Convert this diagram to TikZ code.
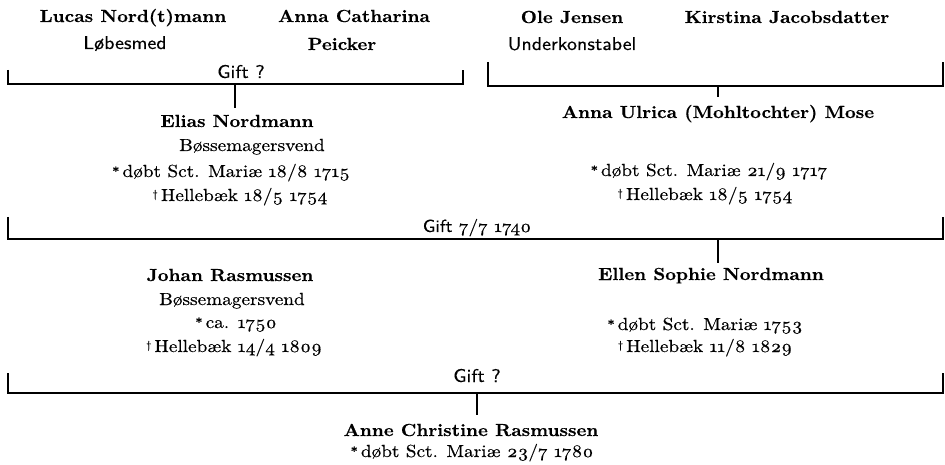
\documentclass[tikz,border=0pt]{standalone}
\usepackage{fontspec}
\newfontfamily\regfont{lmroman10-regular.otf}[FakeStretch=1.1, FakeBold=0.4, Numbers=OldStyle]
\newfontfamily\namefont{lmroman10-bold.otf}[FakeStretch=1.07, FakeBold=0.4]
\newfontfamily\sansreg{lmsans10-regular.otf}[FakeStretch=1.08, FakeBold=0.3]
\newcommand\bornmk{\raisebox{0.2ex}{\fontsize{12}{12}\selectfont\namefont *}\hspace{3pt}}
\newcommand\diedmk{\raisebox{0.45ex}{\fontsize{11}{11}\selectfont\textdagger}\hspace{3pt}}
\begin{document}
\begin{tikzpicture}[x=1pt,y=-1pt,
  every node/.style={inner sep=0pt, outer sep=0pt, anchor=base},
  nm/.style={font=\fontsize{17.5}{21}\namefont},
  tx/.style={font=\fontsize{17.5}{21}\regfont},
  sf/.style={font=\fontsize{18.5}{22}\sansreg},
  bracket/.style={line width=2.2pt, line join=miter},
  stem/.style={line width=2pt}]
\useasboundingbox[fill=white] (0,0) rectangle (945,465);

% generation 1
\node[nm] (lucas) at (133,22) {Lucas Nord(t)mann};
\node[sf] (lucasjob) at (125,49) {Løbesmed};
\node[nm] (annac) at (354,22) {Anna Catharina};
\node[nm] (annac2) at (342,50) {Peicker};
\node[nm] (ole) at (572,23) {Ole Jensen};
\node[sf] (olejob) at (572,50) {Underkonstabel};
\node[nm] (kirstina) at (787,23) {Kirstina Jacobsdatter};

\coordinate (b1l) at (8,70);
\coordinate (b1r) at (463,70);
\coordinate (m1) at (235,84);
\draw[bracket] (b1l) |- (m1) -| (b1r);
\node[sf] (gift1) at (241,78) {Gift ?};

\coordinate (b2l) at (488,62);
\coordinate (b2r) at (943,62);
\coordinate (m2) at (718,86);
\draw[bracket] (b2l) |- (m2) -| (b2r);

% generation 2
\node[nm] (elias) at (237,127) {Elias Nordmann};
\node[tx] (eliasjob) at (252,151) {Bøssemagersvend};
\node[tx] (eliasb) at (231,177) {\bornmk døbt Sct. Mariæ 18/8 1715};
\node[tx] (eliasd) at (240,201) {\diedmk Hellebæk 18/5 1754};

\node[nm] (ulrica) at (718,118) {Anna Ulrica (Mohltochter) Mose};
\node[tx] (ulricab) at (709,176) {\bornmk døbt Sct. Mariæ 21/9 1717};
\node[tx] (ulricad) at (705,200) {\diedmk Hellebæk 18/5 1754};

\draw[stem, shorten >=7pt] (m1) -- (m1 |- elias.north);
\draw[stem, shorten >=8pt] (m2) -- (m2 |- ulrica.north);

\coordinate (b3l) at (8,217);
\coordinate (b3r) at (943,217);
\coordinate (m3) at (718,239);
\draw[bracket] (b3l) |- (m3) -| (b3r);
\node[tx] (gift2) at (477,232) {{\sansreg Gift} 7/7 1740};

% generation 3
\node[nm] (johan) at (230,281) {Johan Rasmussen};
\node[tx] (johanjob) at (232,305) {Bøssemagersvend};
\node[tx] (johanb) at (236,328) {\bornmk ca. 1750};
\node[tx] (johand) at (234,352) {\diedmk Hellebæk 14/4 1809};

\node[nm] (ellen) at (711,280) {Ellen Sophie Nordmann};
\node[tx] (ellenb) at (705,330) {\bornmk døbt Sct. Mariæ 1753};
\node[tx] (elland) at (705,352) {\diedmk Hellebæk 11/8 1829};

\draw[stem, shorten >=5pt] (m3) -- (m3 |- ellen.north);

\coordinate (b4l) at (8,373);
\coordinate (b4r) at (943,373);
\coordinate (m4) at (477,393);
\draw[bracket] (b4l) |- (m4) -| (b4r);
\node[sf] (gift3) at (477,382) {Gift ?};

% generation 4
\node[nm] (anne) at (471,436) {Anne Christine Rasmussen};
\node[tx] (anneb) at (472,457) {\bornmk døbt Sct. Mariæ 23/7 1780};

\draw[stem, shorten >=9pt] (m4) -- (m4 |- anne.north);
\end{tikzpicture}
\end{document}
